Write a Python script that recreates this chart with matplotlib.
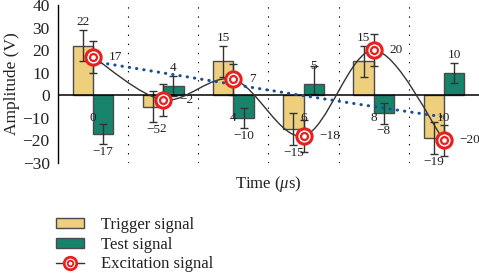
import matplotlib
matplotlib.use("Agg")
import matplotlib.pyplot as plt
from matplotlib.path import Path
from matplotlib.patches import PathPatch, Patch
from matplotlib.lines import Line2D
from matplotlib.legend_handler import HandlerTuple

plt.rcParams.update({
    "font.family": "Liberation Serif",
    "mathtext.fontset": "custom",
    "mathtext.rm": "Liberation Serif",
    "mathtext.it": "Liberation Serif:italic",
})

# --- data ------------------------------------------------------------------ #
time_us = [0, 2, 4, 6, 8, 10]
trigger = [22, -5, 15, -15, 15, -19]
test = [-17, 4, -10, 5, -8, 10]
excitation = [17, -2, 7, -18, 20, -20]
trigger_err = [7, 7, 7, 7, 7, 7]
test_err_lo = [4.5, 4.5, 4.5, 4.5, 4.5, 4.5]
test_err_hi = [4.5, 4.5, 4.5, 8, 4.5, 4.5]
excitation_err = [7, 7, 7, 7, 7, 7]
trend = [15.0, 9.9, 4.8, -0.2, -5.0, -9.6]
yticks = [-30, -20, -10, 0, 10, 20, 30, 40]

YELLOW = "#EDCF7E"
GREEN = "#18836B"
RED = "#E8201E"
BLUE = "#1A4C9C"
EDGE = "#4a4a4a"
TXT = "#222222"

fig = plt.figure(figsize=(4.79, 2.74), dpi=100)
ax = fig.add_axes([58 / 479, 1 - 163 / 274, 421 / 479, 158 / 274])

w = 0.58
xt = [t - w / 2 for t in time_us]
xs = [t + w / 2 for t in time_us]
ax.bar(xt, trigger, w, color=YELLOW, edgecolor=EDGE, lw=1, zorder=2)
ax.bar(xs, test, w, color=GREEN, edgecolor=EDGE, lw=1, zorder=2)
ekw = dict(fmt="none", ecolor="#333333", elinewidth=1, capsize=2.8, capthick=1, zorder=3)
ax.errorbar(xt, trigger, yerr=trigger_err, **ekw)
ax.errorbar(xs, test, yerr=[test_err_lo, test_err_hi], **ekw)
ax.errorbar(time_us, excitation, yerr=excitation_err, **ekw)

# separators between time groups
for t in time_us[:-1]:
    ax.axvline(t + 1, color="black", lw=0.8, ls=(0, (1.2, 7)), zorder=1)
ax.axhline(0, color="black", lw=1.1, zorder=3.5)

# smooth line through excitation points (Catmull-Rom -> cubic Bezier)
pts = list(zip(time_us, excitation))
verts, codes = [pts[0]], [Path.MOVETO]
n = len(pts)
for i in range(n - 1):
    p0 = pts[max(i - 1, 0)]
    p1, p2 = pts[i], pts[i + 1]
    p3 = pts[min(i + 2, n - 1)]
    c1 = (p1[0] + (p2[0] - p0[0]) / 6, p1[1] + (p2[1] - p0[1]) / 6)
    c2 = (p2[0] - (p3[0] - p1[0]) / 6, p2[1] - (p3[1] - p1[1]) / 6)
    verts += [c1, c2, p2]
    codes += [Path.CURVE4] * 3
ax.add_patch(PathPatch(Path(verts, codes), fill=False, edgecolor="#333333", lw=1, zorder=4))

ax.plot(time_us, trend, color=BLUE, lw=2.2, ls=(0, (0.1, 2.3)),
        solid_capstyle="round", dash_capstyle="round", zorder=4.5)

ax.plot(time_us, excitation, "o", ms=11, mfc="white", mec=RED, mew=2.2, zorder=5)
ax.plot(time_us, excitation, "o", ms=5, mfc="white", mec=RED, mew=1.6, zorder=5.1)


def lab(v):
    return f"{v}".replace("-", "\u2212")


# value labels
fs = 9.5
for t, v, e in zip(xt, trigger, trigger_err):
    ax.text(t, v + (e + 3.5) * (1 if v > 0 else -1), lab(v),
            ha="center", va="center", fontsize=fs, color=TXT, zorder=6)
for t, v in zip(xs, test):
    ax.text(t, v + 8 * (1 if v > 0 else -1), lab(v),
            ha="center", va="center", fontsize=fs, color=TXT, zorder=6)
for t, v in zip(time_us, excitation):
    ax.text(t + 0.45, v, lab(v),
            ha="left", va="center", fontsize=fs, color=TXT, zorder=6)
time_label_y = [-10, -15, -10, -10, -10, -10]
for t, y in zip(time_us, time_label_y):
    ax.text(t, y, f"{t}", ha="center", va="center", fontsize=fs, color=TXT, zorder=6)

ax.set_xlim(-1, 11)
ax.set_ylim(-30, 40)
ax.set_yticks(yticks)
ax.set_xticks([])
ax.tick_params(axis="y", length=0, pad=6, labelsize=12.5, labelcolor=TXT)
for s in ("top", "right", "bottom"):
    ax.spines[s].set_visible(False)
ax.spines["left"].set_linewidth(1)
ax.set_ylabel("Amplitude (V)", fontsize=12.5, labelpad=2, color=TXT)
ax.set_xlabel(r"Time ($\mu$s)", fontsize=12, labelpad=8, color=TXT)

handles = [
    Patch(facecolor=YELLOW, edgecolor=EDGE, lw=1),
    Patch(facecolor=GREEN, edgecolor=EDGE, lw=1),
    (Line2D([], [], color="#333333", lw=1, marker="o", ms=9, mfc="white", mec=RED, mew=2),
     Line2D([], [], ls="none", marker="o", ms=4, mfc="white", mec=RED, mew=1.4)),
]
fig.legend(handles, ["Trigger signal", "Test signal", "Excitation signal"],
           loc="upper left", bbox_to_anchor=(56 / 479, 1 - 217 / 274),
           frameon=False, fontsize=12, handlelength=1.7, handleheight=0.55,
           handletextpad=1.0, labelspacing=0.22, borderpad=0, borderaxespad=0,
           labelcolor=TXT, handler_map={tuple: HandlerTuple(ndivide=1)})

fig.savefig("out.png", dpi=100)
